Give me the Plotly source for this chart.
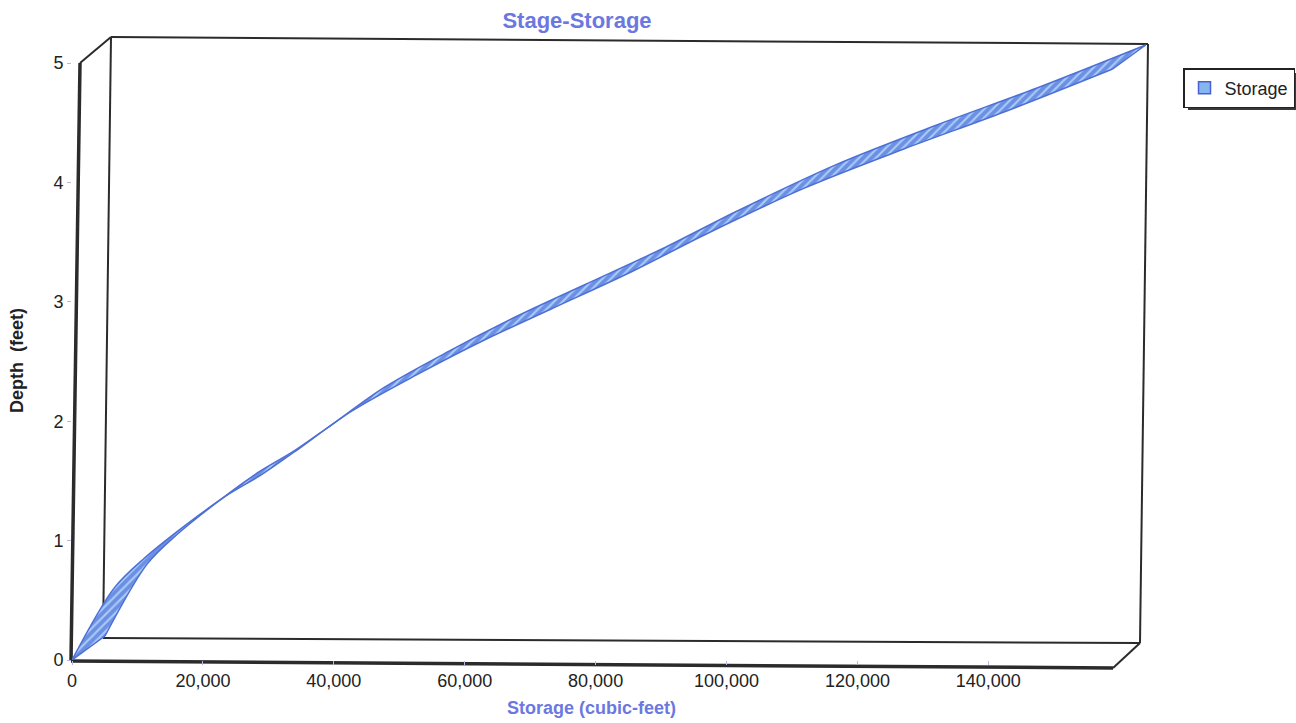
import plotly.graph_objects as go

# ---- data ----
storage_cf = [0, 6400, 11000, 17600, 23700, 28900, 33900, 42600, 52700, 63000,
              73200, 85400, 96600, 111800, 127100, 142400, 159000]
depth_ft = [0.0, 0.60, 0.85, 1.14, 1.38, 1.55, 1.74, 2.08, 2.39, 2.68,
            2.94, 3.25, 3.56, 3.95, 4.28, 4.59, 4.95]
x_ticks = [0, 20000, 40000, 60000, 80000, 100000, 120000, 140000]
y_ticks = [0, 1, 2, 3, 4, 5]

# ---- layout geometry ----
W, H = 1296, 723
L, R, T, B = 72, 149, 37, 63
PW, PH = W - L - R, H - T - B
X_MAX = 164240
Y_MAX = 5.218
# 3-D depth offset of the ribbon (in axis units)
DX = 33 / PW * X_MAX
DY = 24 / PH * Y_MAX

back_x = [v + DX for v in storage_cf]
back_y = [v + DY for v in depth_ft]

fig = go.Figure()
fig.add_trace(go.Scatter(
    x=storage_cf, y=depth_ft, mode="lines", showlegend=False,
    line=dict(color="#4d6fd6", width=1.5, shape="spline", smoothing=0.9),
    hoverinfo="skip",
))
fig.add_trace(go.Scatter(
    x=back_x, y=back_y, mode="lines", fill="tonexty", showlegend=False,
    line=dict(color="#4d6fd6", width=1.5, shape="spline", smoothing=0.9),
    fillcolor="#6f93e6",
    fillpattern=dict(shape="/", fgcolor="#a9cdf6", bgcolor="#6c8fe4",
                     size=6, solidity=0.35, fillmode="replace"),
    hoverinfo="skip",
))
# closing edges of the ribbon at both ends
fig.add_trace(go.Scatter(
    x=[storage_cf[0], back_x[0]], y=[depth_ft[0], back_y[0]], mode="lines",
    showlegend=False, line=dict(color="#4d6fd6", width=1.5), hoverinfo="skip"))
fig.add_trace(go.Scatter(
    x=[storage_cf[-1], back_x[-1]], y=[depth_ft[-1], back_y[-1]], mode="lines",
    showlegend=False, line=dict(color="#4d6fd6", width=1.5), hoverinfo="skip"))
# legend entry
fig.add_trace(go.Scatter(
    x=[None], y=[None], mode="markers", name="Storage",
    marker=dict(symbol="square", size=12, color="#86b6f2",
                line=dict(color="#4a5fd0", width=1.5)),
))

def px(xp):
    return (xp - L) / PW

def py(yp):
    return (H - B - yp) / PH

def seg(x0, y0, x1, y1, w=2, c="#2b2b2b"):
    fig.add_shape(type="line", xref="paper", yref="paper",
                  x0=px(x0), y0=py(y0), x1=px(x1), y1=py(y1),
                  line=dict(color=c, width=w), layer="below")

# back frame
seg(111, 37, 1148, 44, 2)
seg(111, 37, 103, 638, 2)
seg(1148, 44, 1140, 643, 2)
seg(103, 638, 1140, 643, 2)
# side/floor connections
seg(80, 63, 111, 37, 2)
seg(1113, 668, 1140, 643, 2)
# front axes (thicker)
seg(71, 661, 80, 63, 3.5)
seg(71, 661, 1113, 668, 3.5)

# legend shadow
fig.add_shape(type="rect", xref="paper", yref="paper",
              x0=px(1188), y0=py(110), x1=px(1297), y1=py(73),
              fillcolor="#3a3a3a", line=dict(width=0), layer="below")

# axis titles placed as in the reference
fig.add_annotation(text="<b>Storage (cubic-feet)</b>", xref="paper", yref="paper",
                   x=px(591), y=py(708), xanchor="center", yanchor="middle",
                   showarrow=False, font=dict(size=18, color="#6b78e0"))
fig.add_annotation(text="<b>Depth  (feet)</b>", xref="paper", yref="paper",
                   x=px(17), y=py(361), xanchor="center", yanchor="middle",
                   showarrow=False, textangle=-90,
                   font=dict(size=18, color="#222222"))

fig.update_layout(
    width=W, height=H,
    margin=dict(l=L, r=R, t=T, b=B, autoexpand=False),
    paper_bgcolor="white", plot_bgcolor="white",
    font=dict(family="Liberation Sans, Arial", color="#222222", size=18),
    title=dict(text="<b>Stage-Storage</b>", x=577 / W, xanchor="center",
               y=1 - 20 / H, yanchor="middle",
               font=dict(size=22, color="#6b78e0")),
    showlegend=True,
    legend=dict(x=px(1183), y=py(68), xanchor="left", yanchor="top",
                bgcolor="white", bordercolor="#222222", borderwidth=1.5,
                font=dict(size=18, color="#222222"), itemwidth=30,
                tracegroupgap=0),
    xaxis=dict(range=[0, X_MAX], tickvals=x_ticks, tickformat=",",
               showgrid=False, zeroline=False, showline=False,
               ticks="outside", ticklen=4, tickcolor="#b8b8e8",
               tickfont=dict(size=18), fixedrange=True),
    yaxis=dict(range=[0, Y_MAX], tickvals=y_ticks,
               showgrid=False, zeroline=False, showline=False,
               ticks="outside", ticklen=4, tickcolor="#b8b8e8",
               tickfont=dict(size=18), fixedrange=True),
)

fig.write_html("out.html", config={"displayModeBar": False},
               post_script="document.body.style.margin='0';")
